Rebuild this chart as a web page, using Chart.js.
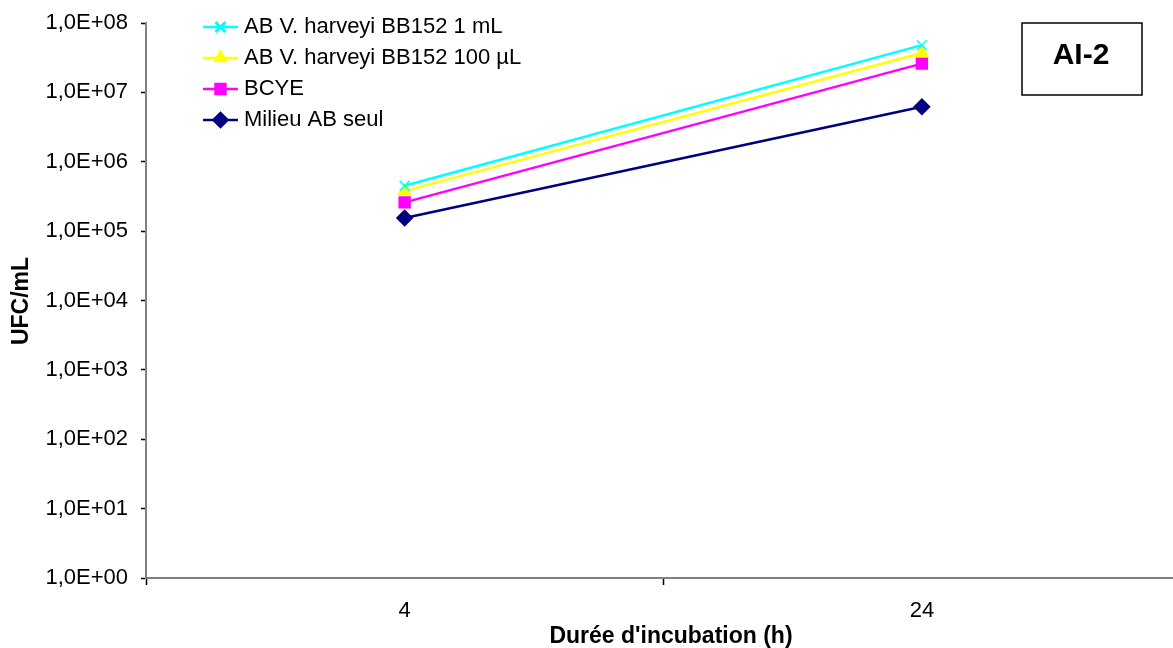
<!DOCTYPE html>
<html>
<head>
<meta charset="utf-8">
<script src="https://cdn.jsdelivr.net/npm/chart.js@4/dist/chart.umd.min.js"></script>
<style>
  html, body { margin: 0; padding: 0; background: #fff; overflow: hidden; }
  #wrap { position: absolute; left: 0; top: 0; width: 1173px; height: 648px; overflow: hidden; }
  canvas { position: absolute; left: 0; top: 0; }
</style>
</head>
<body>
<div id="wrap"><canvas id="graficaUFC" width="1190" height="648"></canvas></div>
<script>
// temps d'incubation (h)
const durees = ['4', '24'];

// UFC/mL
const harveyi1mL = [4.5e5, 4.8e7];
const harveyi100uL = [3.8e5, 3.7e7];
const bcye = [2.6e5, 2.6e7];
const milieuSeul = [1.55e5, 6.2e6];

const exposants = [0, 1, 2, 3, 4, 5, 6, 7, 8];

const police = '"Liberation Sans", Arial, sans-serif';

// legende + titres + encadre AI-2 dessines a la main
const decor = {
    id: 'decor',
    afterDraw(chart) {
        const ctx = chart.ctx;
        ctx.save();

        // titres des axes
        ctx.fillStyle = '#000';
        ctx.font = 'bold 23px ' + police;
        ctx.textAlign = 'center';
        ctx.textBaseline = 'middle';
        ctx.fillText("Durée d'incubation (h)", 671, 637);
        ctx.save();
        ctx.translate(22, 301);
        ctx.rotate(-Math.PI / 2);
        ctx.fillText('UFC/mL', 0, 0);
        ctx.restore();

        // legende
        const lignes = [0, 1, 2, 3];
        lignes.forEach(i => {
            const ds = chart.data.datasets[i];
            const y = 27 + i * 31;
            ctx.strokeStyle = ds.borderColor;
            ctx.lineWidth = 2.5;
            ctx.beginPath();
            ctx.moveTo(203, y);
            ctx.lineTo(238, y);
            ctx.stroke();
            Chart.helpers.drawPoint(ctx, {
                pointStyle: ds.pointStyle,
                radius: ds.pointRadius,
                rotation: 0,
                borderWidth: ds.pointStyle === 'crossRot' ? 1.5 : 1
            }, 220.5, y);
            if (ds.pointStyle === 'crossRot') { ctx.stroke(); } else { ctx.fillStyle = ds.backgroundColor; ctx.fill(); }
            ctx.fillStyle = '#000';
            ctx.font = '22px ' + police;
            ctx.textAlign = 'left';
            ctx.fillText(ds.label, 244, y);
        });

        // encadre AI-2
        ctx.strokeStyle = '#000';
        ctx.lineWidth = 1.5;
        ctx.strokeRect(1022, 23, 120, 72);
        ctx.font = 'bold 30px ' + police;
        ctx.textAlign = 'center';
        ctx.fillStyle = '#000';
        ctx.fillText('AI-2', 1081, 56);

        ctx.restore();
    }
};

const ctx = document.getElementById('graficaUFC').getContext('2d');

new Chart(ctx, {
    type: 'line',
    data: {
        labels: durees,
        datasets: [
            {
                label: 'AB V. harveyi BB152 1 mL',
                data: harveyi1mL,
                borderColor: '#00FFFF',
                backgroundColor: '#00FFFF',
                pointStyle: 'crossRot',
                pointRadius: 7,
                pointBorderWidth: 1.5,
                borderWidth: 2.5
            },
            {
                label: 'AB V. harveyi BB152 100 µL',
                data: harveyi100uL,
                borderColor: '#FFFF00',
                backgroundColor: '#FFFF00',
                pointStyle: 'triangle',
                pointRadius: 6,
                borderWidth: 2.5
            },
            {
                label: 'BCYE',
                data: bcye,
                borderColor: '#FF00FF',
                backgroundColor: '#FF00FF',
                pointStyle: 'rect',
                pointRadius: 7,
                borderWidth: 2.5
            },
            {
                label: 'Milieu AB seul',
                data: milieuSeul,
                borderColor: '#000080',
                backgroundColor: '#000080',
                pointStyle: 'rectRot',
                pointRadius: 7,
                borderWidth: 2.5
            }
        ]
    },
    options: {
        responsive: false,
        animation: false,
        devicePixelRatio: 1,
        layout: { padding: { top: 23, right: 8, left: 0, bottom: 0 } },
        plugins: {
            legend: { display: false },
            tooltip: { enabled: false }
        },
        scales: {
            x: {
                type: 'category',
                offset: true,
                grid: {
                    offset: true,
                    drawOnChartArea: false,
                    color: '#000',
                    tickLength: 7,
                    tickWidth: 1.5
                },
                border: { color: '#808080', width: 2 },
                ticks: {
                    color: '#000',
                    padding: 13,
                    font: { family: police, size: 22 }
                },
                afterFit: (scale) => { scale.height = 70; }
            },
            y: {
                type: 'logarithmic',
                min: 1,
                max: 1e8,
                grid: {
                    drawOnChartArea: false,
                    color: '#000',
                    tickLength: 5,
                    tickWidth: 1.5
                },
                border: { color: '#808080', width: 2 },
                afterBuildTicks: (scale) => {
                    scale.ticks = exposants.map(e => ({ value: Math.pow(10, e) }));
                },
                ticks: {
                    color: '#000',
                    padding: 13,
                    font: { family: police, size: 22 },
                    callback: (value) => {
                        const e = Math.round(Math.log10(value));
                        return '1,0E+' + String(e).padStart(2, '0');
                    }
                },
                afterFit: (scale) => {
                    scale.width = 146;
                    scale.paddingTop = 0;
                    scale.paddingBottom = 0;
                }
            }
        }
    },
    plugins: [decor]
});
</script>
</body>
</html>
